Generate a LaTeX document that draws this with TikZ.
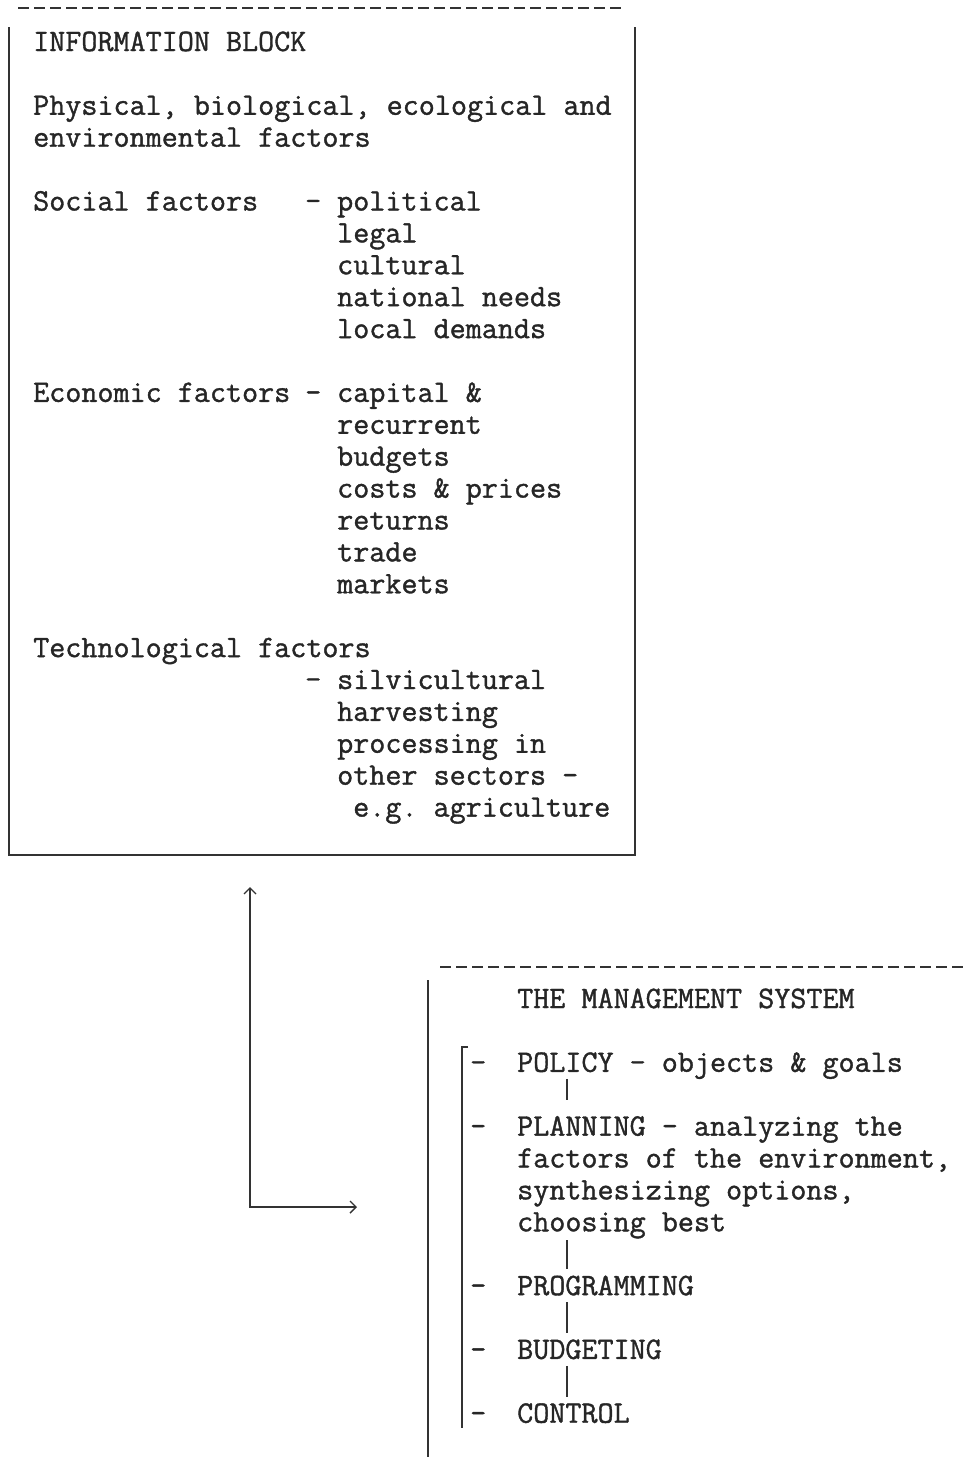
\documentclass[tikz,border=0pt]{standalone}
\usepackage{fontspec}
\setmonofont[FakeBold=1.2]{Latin Modern Mono}
\usetikzlibrary{calc,arrows.meta}

\begin{document}
\begin{tikzpicture}[x=1pt,y=-1pt, >={Straight Barb[length=6pt,width=12pt]}]

\tikzstyle{every node}=[font=\ttfamily\fontsize{31.2}{31.9}\selectfont, text=black!85, inner sep=0pt, anchor=base west]
\tikzstyle{frame}=[line width=1.8, draw=black!80]
\tikzstyle{topedge}=[frame, dash pattern=on 11pt off 5pt]
\tikzstyle{link}=[line width=1.4, draw=black!80]

\useasboundingbox (0,0) rectangle (963,1457);

% information block %
\coordinate (itl) at (9,27);
\coordinate (itr) at (635,27);
\coordinate (ibl) at (9,855);
\coordinate (ibr) at (635,855);
\draw[topedge] (18,8) -- (625,8);
\draw[frame] (itl) -- (ibl) -- (ibr) -- (itr);

\foreach \ln/\cl/\txt in {0/0/INFORMATION BLOCK,
  2/0/{Physical, biological, ecological and}, 3/0/environmental factors,
  5/0/Social factors, 5/17/-, 5/19/political, 6/19/legal, 7/19/cultural,
  8/19/national needs, 9/19/local demands,
  11/0/Economic factors, 11/17/-, 11/19/capital \&, 12/19/recurrent,
  13/19/budgets, 14/19/costs \& prices, 15/19/returns, 16/19/trade, 17/19/markets,
  19/0/Technological factors, 20/17/-, 20/19/silvicultural, 21/19/harvesting,
  22/19/processing in, 23/19/other sectors -, 24/20/e.g. agriculture}
  \node (i\ln-\cl) at ({33+16*\cl}, {51+31.9*\ln}) {\txt};

% management system %
\coordinate (mtl) at (428,980);
\coordinate (mbl) at (428,1457);
\draw[topedge] (440,967) -- (963,967);
\draw[frame] (mtl) -- (mbl);

\foreach \ln/\txt in {0/THE MANAGEMENT SYSTEM, 2/POLICY - objects \& goals,
  4/PLANNING - analyzing the, 5/{factors of the environment,},
  6/{synthesizing options,}, 7/choosing best, 9/PROGRAMMING,
  11/BUDGETING, 13/CONTROL}
  \node (m\ln) at (517, {1008+31.9*\ln}) {\txt};
\foreach \ln in {2,4,9,11,13}
  \node (d\ln) at (470, {1008+31.9*\ln}) {-};

% edges %
\draw[link] (468,1047) -- (462,1047) -- (462,1428);
\draw[link] ($(m2.base west)+(50,7)$) -- ($(m4.base west)+(50,-36)$);
\draw[link] ($(m7.base west)+(50,9)$) -- ($(m9.base west)+(50,-26)$);
\draw[link] ($(m9.base west)+(50,7)$) -- ($(m11.base west)+(50,-26)$);
\draw[link] ($(m11.base west)+(50,7)$) -- ($(m13.base west)+(50,-26)$);

\coordinate (up) at (250,887);
\coordinate (out) at (357,1207);
\draw[link, <->] (up) |- (out);

\end{tikzpicture}
\end{document}
